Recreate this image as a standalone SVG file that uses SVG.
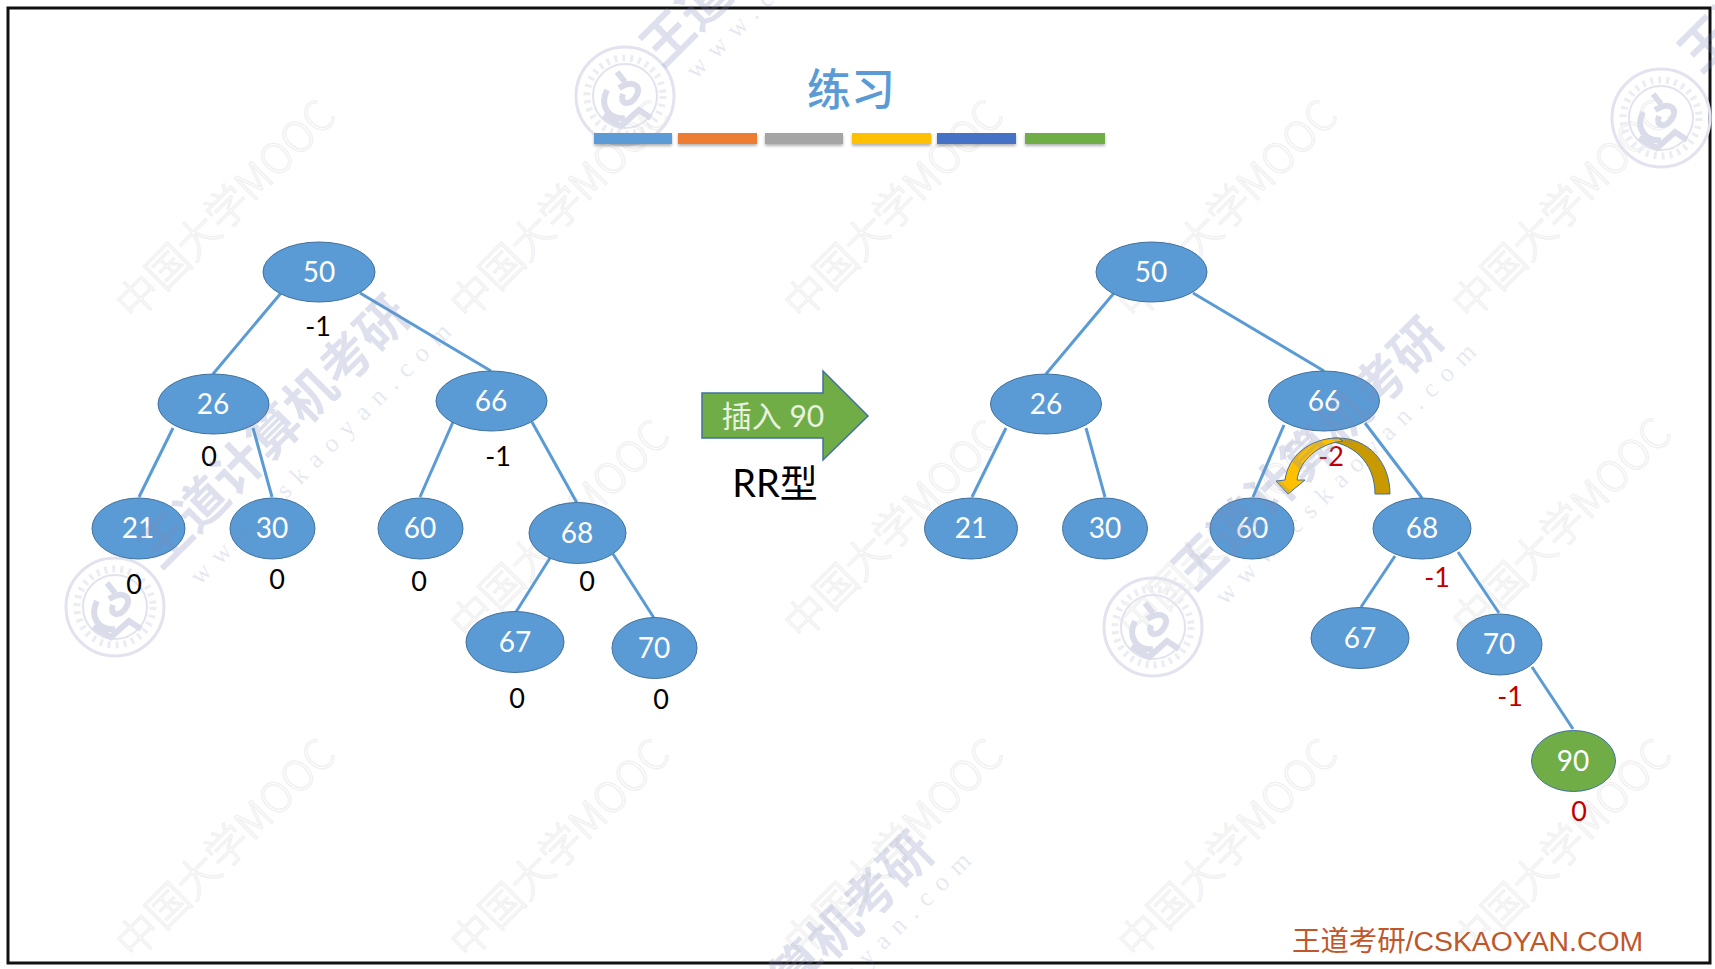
<svg xmlns="http://www.w3.org/2000/svg" xmlns:xlink="http://www.w3.org/1999/xlink" width="1715" height="969" viewBox="0 0 1715 969">
<defs>
<style>
.n{fill:#5b9bd5;stroke:#41719c;stroke-width:1}
.g{fill:#70ad47;stroke:#41719c;stroke-width:1}
.t{font-family:"Lato","Liberation Sans",sans-serif;font-size:28px;fill:#fff;text-anchor:middle}
.b{font-family:"Lato","Liberation Sans",sans-serif;font-size:27px;fill:#000;text-anchor:middle}
.r{fill:#c00000}
.e{stroke:#5b9bd5;stroke-width:3;fill:none}
.w1{font-family:"Noto Sans CJK SC","Noto Sans",sans-serif;font-size:42px;font-weight:300;fill:none;stroke:#f0f0f0;stroke-width:1.2}
.w2{font-family:"Noto Sans CJK SC",sans-serif;font-size:51px;font-weight:700;fill:#7c86b8;fill-opacity:.25}
.w3{font-family:"Liberation Serif",serif;font-size:26px;fill:#7c86b8;fill-opacity:.2}
</style>
<filter id="sh" x="-10%" y="-30%" width="120%" height="180%"><feDropShadow dx="0" dy="2" stdDeviation="1.5" flood-color="#000" flood-opacity=".3"/></filter>
<g id="wm"><g transform="rotate(-45)"><text class="w1" x="0" y="0">中国大学MOOC</text></g></g>
<g id="seal" fill="none" stroke="#e2e3ee">
<circle r="49" stroke-width="3"/>
<circle r="38" stroke-width="7" stroke-dasharray="3 5" stroke="#ecedf3"/>
<circle r="32" stroke-width="2"/>
<path d="M-8,-24 L0,-14 M-6,-8 C10,-18 18,-8 10,2 C4,10 -6,8 -2,-2 M-18,-6 C-26,10 -16,24 0,22 M-22,20 L-4,30 L14,14 L26,22" stroke="#dadcea" stroke-width="6"/>
</g>
</defs>
<rect width="1715" height="969" fill="#fff"/>
<rect x="8" y="8" width="1702" height="955" fill="#fff" stroke="#111" stroke-width="3"/>

<g id="watermarks">
<use xlink:href="#wm" x="134" y="322"/><use xlink:href="#wm" x="468" y="322"/><use xlink:href="#wm" x="802" y="322"/><use xlink:href="#wm" x="1136" y="322"/><use xlink:href="#wm" x="1470" y="322"/>
<use xlink:href="#wm" x="468" y="642"/><use xlink:href="#wm" x="802" y="642"/><use xlink:href="#wm" x="1136" y="642"/><use xlink:href="#wm" x="1470" y="640"/>
<use xlink:href="#wm" x="134" y="961"/><use xlink:href="#wm" x="468" y="961"/><use xlink:href="#wm" x="802" y="961"/><use xlink:href="#wm" x="1136" y="961"/><use xlink:href="#wm" x="1470" y="961"/>
<use xlink:href="#seal" x="625" y="96"/><use xlink:href="#seal" x="1661" y="118"/><use xlink:href="#seal" x="115" y="607"/><use xlink:href="#seal" x="1153" y="627"/>
</g>

<g id="title">
<text x="851" y="106" font-family="Noto Sans CJK SC,sans-serif" font-size="44" font-weight="500" fill="#5b9bd5" text-anchor="middle">练习</text>
<g filter="url(#sh)">
<rect x="594" y="133" width="78" height="11" fill="#5b9bd5"/>
<rect x="678" y="133" width="79" height="11" fill="#ed7d31"/>
<rect x="765" y="133" width="78" height="11" fill="#a5a5a5"/>
<rect x="852" y="133" width="79" height="11" fill="#ffc000"/>
<rect x="937" y="133" width="79" height="11" fill="#4472c4"/>
<rect x="1025" y="133" width="80" height="11" fill="#70ad47"/>
</g>
</g>

<g id="connectors">
<line class="e" x1="281" y1="293" x2="213" y2="374"/><line class="e" x1="360" y1="293" x2="491" y2="371"/>
<line class="e" x1="173" y1="428" x2="139" y2="497"/><line class="e" x1="253" y1="428" x2="272" y2="497"/>
<line class="e" x1="453" y1="422" x2="420" y2="497"/><line class="e" x1="532" y1="422" x2="577" y2="503"/>
<line class="e" x1="550" y1="558" x2="516" y2="612"/><line class="e" x1="613" y1="554" x2="654" y2="618"/>
<line class="e" x1="1114" y1="293" x2="1046" y2="374"/><line class="e" x1="1193" y1="293" x2="1324" y2="371"/>
<line class="e" x1="1006" y1="428" x2="972" y2="497"/><line class="e" x1="1086" y1="428" x2="1105" y2="497"/>
<line class="e" x1="1284" y1="425" x2="1253" y2="497"/><line class="e" x1="1365" y1="423" x2="1422" y2="498"/>
<line class="e" x1="1395" y1="556" x2="1361" y2="607"/><line class="e" x1="1458" y1="552" x2="1499" y2="613"/>
<line class="e" x1="1532" y1="667" x2="1573" y2="729"/>
</g>

<g id="n-l50"><ellipse class="n" cx="319" cy="272" rx="56" ry="30"/><text class="t" x="319" y="282">50</text></g>
<g id="n-l26"><ellipse class="n" cx="213.500" cy="404" rx="55.500" ry="30"/><text class="t" x="213" y="414">26</text></g>
<g id="n-l66"><ellipse class="n" cx="491.500" cy="401" rx="55.500" ry="30"/><text class="t" x="491" y="411">66</text></g>
<g id="n-l21"><ellipse class="n" cx="138.500" cy="528.500" rx="46.500" ry="30.500"/><text class="t" x="138" y="538">21</text></g>
<g id="n-l30"><ellipse class="n" cx="272.500" cy="528.500" rx="42.500" ry="30.500"/><text class="t" x="272" y="538">30</text></g>
<g id="n-l60"><ellipse class="n" cx="420.500" cy="528.500" rx="42.500" ry="30.500"/><text class="t" x="420" y="538">60</text></g>
<g id="n-l68"><ellipse class="n" cx="577.500" cy="533" rx="48.500" ry="30.500"/><text class="t" x="577" y="543">68</text></g>
<g id="n-l67"><ellipse class="n" cx="515" cy="642" rx="49" ry="30.500"/><text class="t" x="515" y="652">67</text></g>
<g id="n-l70"><ellipse class="n" cx="654.500" cy="648" rx="42.500" ry="30.500"/><text class="t" x="654" y="658">70</text></g>

<g id="n-r50"><ellipse class="n" cx="1151.500" cy="272" rx="55.500" ry="30"/><text class="t" x="1151" y="282">50</text></g>
<g id="n-r26"><ellipse class="n" cx="1046" cy="404" rx="55.500" ry="30"/><text class="t" x="1046" y="414">26</text></g>
<g id="n-r66"><ellipse class="n" cx="1324" cy="401" rx="55.500" ry="30"/><text class="t" x="1324" y="411">66</text></g>
<g id="n-r21"><ellipse class="n" cx="971" cy="528.500" rx="46.500" ry="30.500"/><text class="t" x="971" y="538">21</text></g>
<g id="n-r30"><ellipse class="n" cx="1105" cy="528.500" rx="42.500" ry="30.500"/><text class="t" x="1105" y="538">30</text></g>
<g id="n-r60"><ellipse class="n" cx="1252" cy="528.500" rx="42" ry="30.500"/><text class="t" x="1252" y="538">60</text></g>
<g id="n-r68"><ellipse class="n" cx="1422" cy="528.500" rx="49" ry="30.500"/><text class="t" x="1422" y="538">68</text></g>
<g id="n-r67"><ellipse class="n" cx="1360" cy="638" rx="49" ry="30.500"/><text class="t" x="1360" y="648">67</text></g>
<g id="n-r70"><ellipse class="n" cx="1499.500" cy="644.500" rx="42.500" ry="30.500"/><text class="t" x="1499" y="654">70</text></g>
<g id="n-r90"><ellipse class="g" cx="1573.500" cy="761" rx="42" ry="30.500"/><text class="t" x="1573" y="771">90</text></g>

<g id="balance-left">
<text class="b" x="318" y="336">-1</text><text class="b" x="209" y="466">0</text><text class="b" x="498" y="466">-1</text>
<text class="b" x="134" y="594">0</text><text class="b" x="277" y="589">0</text><text class="b" x="419" y="591">0</text>
<text class="b" x="587" y="591">0</text><text class="b" x="517" y="708">0</text><text class="b" x="661" y="709">0</text>
</g>

<g id="rotate-arrow" stroke="#41719c" stroke-width="1">
<path d="M1375,494 H1390 C1390,462 1368,438 1338,438 C1332,438 1326,439 1322,441 C1352,441 1375,462 1375,494Z" fill="#c99a00"/>
<path d="M1338,438 C1310,438 1288,456 1285,480 L1276,481 L1288,494 L1305,480 L1297,480 C1300,460 1318,444 1343,441 Z" fill="#ffc000"/>
</g>
<g id="balance-right">
<text class="b r" x="1331" y="466">-2</text><text class="b r" x="1437" y="587">-1</text><text class="b r" x="1510" y="706">-1</text><text class="b r" x="1579" y="821">0</text>
</g>

<g id="insert-arrow">
<path d="M702,393 H823 V371 L868,416 L823,460 V438 H702Z" fill="#70ad47" stroke="#41719c" stroke-width="1.500"/>
<text x="773" y="427" font-family="Lato,'Noto Sans CJK SC',sans-serif" font-size="30" fill="#e8f2e0" text-anchor="middle">插入 90</text>
</g>
<text x="775" y="497" font-family="Lato,'Noto Sans CJK SC',sans-serif" font-size="38" fill="#000" text-anchor="middle">RR型</text>

<text id="footer" x="1292" y="951" font-family="'Liberation Sans','Noto Sans CJK SC',sans-serif" font-size="28.400" fill="#c0562a">王道考研/CSKAOYAN.COM</text>

<g id="big-watermarks">
<text class="w2" transform="translate(148,558) rotate(-45)" y="18">王道计算机考研</text>
<text class="w3" transform="translate(200,586) rotate(-45)" textLength="357">www.cskaoyan.com</text>
<text class="w2" transform="translate(1182,580) rotate(-45)" y="18">王道计算机考研</text>
<text class="w3" transform="translate(1225,606) rotate(-45)" textLength="357">www.cskaoyan.com</text>
<text class="w2" transform="translate(672,1094) rotate(-45)" y="18">王道计算机考研</text>
<text class="w3" transform="translate(720,1115) rotate(-45)" textLength="357">www.cskaoyan.com</text>
<text class="w2" transform="translate(650,56) rotate(-45)" y="18">王道计算机考研</text>
<text class="w3" transform="translate(696,80) rotate(-45)" textLength="357">www.cskaoyan.com</text>
<text class="w2" transform="translate(1688,62) rotate(-45)" y="18">王道计算机考研</text>
</g>
</svg>
